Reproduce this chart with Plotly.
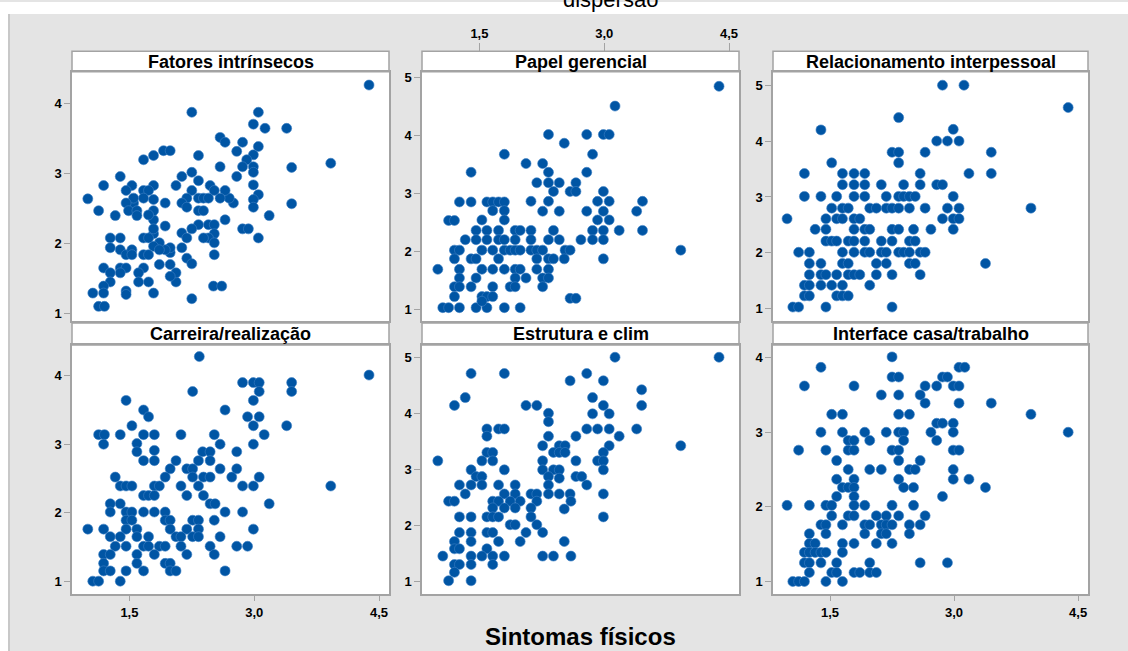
import plotly.graph_objects as go

# ---------------- data ----------------
panel_titles = ["Fatores intrínsecos", "Papel gerencial", "Relacionamento interpessoal",
                "Carreira/realização", "Estrutura e clim", "Interface casa/trabalho"]
x_title = "Sintomas físicos"
x_tickvals = [1.5, 3.0, 4.5]
x_ticktext = ["1,5", "3,0", "4,5"]

fatores = [(4.38,4.27),(2.25,3.88),(3.05,3.88),(2.99,3.71),(3.13,3.65),(3.39,3.65),(2.59,3.52),(2.65,3.45),
 (2.86,3.45),(2.79,3.32),(3.05,3.39),(2.99,3.27),(2.91,3.20),(2.86,3.10),(2.99,3.10),(2.99,3.02),(2.59,3.10),
 (3.45,3.09),(3.92,3.15),(2.79,2.96),(2.99,2.84),(3.05,2.70),(2.99,2.63),(2.99,2.52),(2.75,2.58),(2.70,2.65),
 (3.45,2.57),(3.18,2.40),(2.86,2.21),(2.93,2.21),(3.05,2.08),(2.65,2.34),(2.65,2.76),(2.59,2.65),(2.47,2.83),
 (2.52,2.76),(2.33,2.90),(2.33,3.26),(2.25,3.02),(2.25,2.76),(2.19,2.65),(2.13,2.58),(2.19,2.52),(2.33,2.65),
 (2.39,2.65),(2.45,2.65),(2.33,2.47),(2.39,2.47),(2.13,2.96),(2.06,2.83),(2.33,2.27),(2.25,2.21),(2.45,2.27),
 (2.52,2.27),(2.52,2.14),(2.45,2.08),(2.39,2.08),(2.52,2.01),(2.52,1.84),(2.13,2.15),(2.19,2.08),(2.13,1.94),
 (2.19,1.79),(2.25,1.71),(2.51,1.39),(2.61,1.39),(2.25,1.21),(2.06,1.45),(2.06,1.58),(1.99,1.53),(1.99,1.70),
 (1.99,1.87),(1.99,1.94),(1.93,1.91),(1.93,2.25),(1.93,2.58),(1.86,1.70),(1.86,2.01),(1.79,1.96),(1.79,2.14),
 (1.79,2.34),(1.79,2.47),(1.79,2.63),(1.79,2.83),(1.79,3.26),(1.91,3.33),(1.99,3.33),(1.67,3.20),(1.67,2.76),
 (1.73,2.76),(1.67,2.65),(1.73,2.41),(1.67,2.08),(1.73,2.08),(1.67,1.84),(1.73,1.84),(1.67,1.65),(1.61,1.58),
 (1.61,1.45),(1.73,1.45),(1.79,1.29),(1.55,2.58),(1.55,2.65),(1.53,2.83),(1.46,2.76),(1.46,2.58),(1.49,2.47),
 (1.59,2.47),(1.59,2.40),(1.39,2.96),(1.33,2.40),(1.19,2.83),(1.13,2.47),(1.00,2.64),(1.39,2.08),(1.39,1.91),
 (1.46,1.84),(1.53,1.91),(1.53,1.84),(1.27,2.08),(1.27,1.94),(1.39,1.65),(1.46,1.65),(1.39,1.58),(1.19,1.65),
 (1.27,1.58),(1.27,1.45),(1.19,1.39),(1.19,1.29),(1.06,1.29),(1.46,1.32),(1.46,1.27),(1.13,1.10),(1.20,1.10),
 (1.79,2.21),(1.86,1.91)]

papel = [(4.38,4.84),(3.13,4.50),(2.33,4.01),(2.79,4.01),(2.99,4.01),(3.06,4.01),(2.52,3.86),(2.86,3.67),
 (1.80,3.67),(2.06,3.51),(2.26,3.51),(2.33,3.36),(2.79,3.36),(1.40,3.36),(2.19,3.18),(2.33,3.18),(2.46,3.18),
 (2.66,3.18),(2.39,3.03),(2.59,3.03),(2.66,3.03),(2.99,3.03),(2.12,2.86),(2.33,2.86),(2.92,2.86),(3.06,2.86),
 (3.46,2.86),(3.39,2.69),(2.26,2.69),(2.46,2.69),(2.79,2.69),(2.99,2.69),(2.92,2.54),(3.06,2.54),(2.86,2.36),
 (2.99,2.36),(3.18,2.36),(3.46,2.36),(2.72,2.20),(2.86,2.20),(2.99,2.20),(3.92,2.02),(2.99,1.87),(1.26,2.85),
 (1.40,2.85),(1.59,2.85),(1.66,2.85),(1.73,2.85),(1.80,2.85),(1.66,2.70),(1.80,2.70),(1.80,2.54),(1.13,2.53),
 (1.20,2.53),(1.53,2.54),(1.46,2.36),(1.59,2.36),(1.73,2.36),(1.93,2.36),(1.99,2.36),(2.12,2.36),(2.39,2.36),
 (1.33,2.20),(1.46,2.20),(1.59,2.20),(1.73,2.20),(1.80,2.20),(1.93,2.20),(2.12,2.20),(2.33,2.20),(2.46,2.20),
 (1.20,2.02),(1.26,2.02),(1.53,2.02),(1.66,2.02),(1.80,2.02),(1.87,2.02),(1.93,2.02),(1.99,2.02),(2.12,2.02),
 (2.19,2.02),(2.26,2.02),(2.53,2.02),(2.59,2.02),(1.20,1.87),(1.40,1.87),(1.46,1.87),(1.73,1.87),(2.19,1.87),
 (2.33,1.87),(2.39,1.87),(2.52,1.87),(1.00,1.69),(1.26,1.69),(1.53,1.69),(1.66,1.69),(1.80,1.69),(1.93,1.69),
 (1.99,1.69),(2.19,1.69),(2.33,1.69),(1.26,1.54),(1.46,1.54),(1.93,1.54),(2.06,1.54),(2.26,1.54),(2.33,1.54),
 (1.20,1.39),(1.26,1.39),(1.40,1.39),(1.66,1.39),(1.87,1.39),(1.93,1.39),(2.26,1.39),(1.20,1.22),(1.53,1.22),
 (1.59,1.22),(1.66,1.22),(2.59,1.19),(2.66,1.19),(1.06,1.03),(1.13,1.03),(1.26,1.03),(1.46,1.03),(1.59,1.03),
 (1.80,1.03),(1.99,1.03),(1.53,1.14)]

relacionamento = [(4.38,4.60),(2.86,5.00),(3.12,5.00),(2.33,4.42),(1.39,4.20),(2.99,4.21),(2.79,4.00),(2.92,4.00),
 (3.06,4.00),(2.25,3.80),(2.33,3.80),(2.65,3.80),(3.45,3.80),(2.33,3.61),(1.52,3.61),(1.19,3.42),(1.65,3.42),
 (1.79,3.42),(1.92,3.42),(2.59,3.42),(3.18,3.42),(3.45,3.42),(1.65,3.22),(1.79,3.22),(1.92,3.22),(2.12,3.22),
 (2.39,3.22),(2.59,3.22),(2.79,3.22),(2.86,3.22),(1.19,3.01),(1.39,3.01),(1.58,3.01),(1.79,3.01),(1.92,3.01),
 (2.18,3.01),(2.33,3.01),(2.39,3.01),(2.46,3.01),(2.53,3.01),(2.99,3.01),(1.52,2.80),(1.65,2.80),(1.72,2.80),
 (1.98,2.80),(2.06,2.80),(2.18,2.80),(2.25,2.80),(2.33,2.80),(2.46,2.80),(2.65,2.80),(2.92,2.80),(3.06,2.80),
 (3.93,2.80),(0.98,2.61),(1.45,2.61),(1.58,2.61),(1.65,2.61),(1.79,2.61),(1.86,2.61),(2.86,2.61),(2.99,2.61),
 (3.06,2.61),(1.32,2.42),(1.45,2.42),(1.79,2.42),(1.92,2.42),(1.98,2.42),(2.25,2.42),(2.33,2.42),(2.51,2.42),
 (2.72,2.42),(2.99,2.42),(1.45,2.21),(1.52,2.21),(1.58,2.21),(1.72,2.21),(1.79,2.21),(1.92,2.21),(2.12,2.21),
 (2.25,2.21),(2.46,2.21),(2.53,2.21),(1.12,2.01),(1.25,2.01),(1.65,2.01),(1.79,2.01),(1.92,2.01),(1.98,2.01),
 (2.12,2.01),(2.18,2.01),(2.33,2.01),(2.39,2.01),(2.46,2.01),(2.59,2.01),(2.65,2.01),(1.25,1.81),(1.39,1.81),
 (1.65,1.81),(1.72,1.81),(2.06,1.81),(2.18,1.81),(2.46,1.81),(2.53,1.81),(3.38,1.81),(1.25,1.61),(1.39,1.61),
 (1.45,1.61),(1.58,1.61),(1.72,1.61),(1.79,1.61),(1.86,1.61),(2.06,1.61),(2.25,1.61),(2.59,1.61),(1.19,1.42),
 (1.25,1.42),(1.39,1.42),(1.52,1.42),(1.65,1.42),(1.98,1.42),(1.19,1.23),(1.25,1.23),(1.58,1.23),(1.65,1.23),
 (1.72,1.23),(1.05,1.03),(1.12,1.03),(1.45,1.03),(2.25,1.03)]

carreira = [(4.38,4.01),(2.34,4.28),(2.26,3.77),(2.86,3.90),(2.99,3.90),(3.06,3.90),(3.45,3.90),(3.45,3.77),
 (3.06,3.77),(2.99,3.64),(1.46,3.64),(2.65,3.50),(1.67,3.50),(1.73,3.40),(2.92,3.40),(3.06,3.40),(2.99,3.27),
 (3.39,3.27),(1.53,3.27),(1.13,3.14),(1.20,3.14),(1.39,3.14),(1.67,3.14),(1.80,3.14),(2.12,3.14),(2.52,3.14),
 (3.12,3.14),(1.19,3.00),(1.59,3.01),(2.99,3.00),(2.59,3.00),(1.59,2.89),(1.80,2.91),(2.38,2.89),(2.47,2.89),
 (2.79,2.89),(1.67,2.76),(1.80,2.76),(2.06,2.76),(2.33,2.76),(2.47,2.76),(1.99,2.64),(2.19,2.64),(2.26,2.64),
 (2.59,2.64),(2.79,2.64),(1.33,2.52),(1.93,2.52),(2.26,2.52),(2.39,2.52),(2.47,2.52),(2.73,2.52),(3.06,2.52),
 (3.92,2.39),(1.39,2.39),(1.46,2.39),(1.53,2.39),(1.80,2.39),(1.86,2.39),(2.12,2.39),(2.33,2.39),(2.86,2.39),
 (2.99,2.39),(1.67,2.25),(1.73,2.25),(1.80,2.25),(2.19,2.25),(2.39,2.25),(2.47,2.13),(2.53,2.13),(3.18,2.13),
 (1.27,2.13),(1.39,2.13),(1.27,2.01),(1.46,2.01),(1.53,2.01),(1.67,2.01),(1.80,2.01),(1.93,2.01),(2.65,2.01),
 (2.86,2.01),(1.46,1.89),(1.53,1.89),(1.93,1.89),(1.99,1.89),(2.26,1.89),(2.33,1.89),(2.52,1.89),(1.00,1.76),
 (1.19,1.76),(1.46,1.76),(1.59,1.76),(1.99,1.76),(2.19,1.76),(2.33,1.76),(2.99,1.76),(1.27,1.65),(1.39,1.65),
 (1.59,1.65),(1.73,1.65),(2.06,1.65),(2.12,1.65),(2.26,1.65),(2.33,1.65),(2.59,1.65),(1.33,1.51),(1.46,1.51),
 (1.67,1.51),(1.73,1.51),(1.86,1.51),(1.93,1.51),(2.12,1.51),(2.47,1.51),(2.79,1.51),(2.92,1.51),(1.19,1.39),
 (1.27,1.39),(1.59,1.39),(1.80,1.39),(2.19,1.39),(2.52,1.39),(1.19,1.26),(1.59,1.26),(1.93,1.26),(1.99,1.26),
 (1.19,1.15),(1.27,1.15),(1.46,1.15),(1.67,1.15),(1.99,1.15),(2.06,1.15),(2.65,1.15),(1.06,1.00),(1.13,1.00),
 (1.39,1.00)]

estrutura = [(4.38,5.01),(3.13,5.01),(1.40,4.72),(1.80,4.72),(2.79,4.72),(2.59,4.59),(2.99,4.59),(3.45,4.43),
 (1.33,4.29),(2.86,4.29),(1.20,4.15),(2.06,4.15),(2.19,4.15),(2.99,4.15),(3.45,4.15),(2.33,4.01),(2.86,4.00),
 (3.06,4.00),(2.33,3.86),(1.59,3.73),(1.73,3.73),(1.80,3.73),(2.79,3.73),(2.92,3.73),(3.06,3.73),(3.39,3.73),
 (1.59,3.60),(2.33,3.60),(2.66,3.60),(3.18,3.60),(3.92,3.43),(2.26,3.43),(2.46,3.43),(2.53,3.43),(3.06,3.43),
 (1.59,3.31),(1.66,3.31),(2.39,3.31),(2.46,3.31),(2.53,3.31),(2.99,3.31),(1.00,3.16),(1.53,3.16),(1.66,3.16),
 (2.26,3.16),(2.66,3.16),(2.92,3.16),(2.99,3.16),(1.40,3.00),(1.80,3.00),(2.26,3.00),(2.39,3.00),(2.46,3.00),
 (2.99,3.00),(1.46,2.88),(1.53,2.88),(2.33,2.88),(2.46,2.85),(2.66,2.88),(2.73,2.88),(1.26,2.73),(1.40,2.73),
 (1.53,2.73),(1.73,2.73),(1.93,2.73),(2.33,2.73),(2.79,2.73),(1.33,2.57),(1.80,2.57),(1.93,2.57),(2.12,2.57),
 (2.19,2.57),(2.33,2.57),(2.46,2.57),(2.59,2.57),(2.99,2.57),(1.13,2.44),(1.20,2.44),(1.66,2.44),(1.73,2.44),
 (1.87,2.44),(1.99,2.44),(2.19,2.44),(2.60,2.44),(1.66,2.32),(1.80,2.32),(1.93,2.32),(2.12,2.32),(2.52,2.30),
 (1.26,2.16),(1.40,2.16),(1.59,2.16),(1.66,2.16),(1.73,2.16),(2.12,2.16),(2.99,2.16),(1.87,2.02),(1.93,2.02),
 (2.19,2.02),(1.26,1.88),(1.40,1.88),(1.59,1.88),(1.66,1.88),(2.06,1.88),(2.26,1.88),(1.20,1.72),(1.40,1.72),
 (1.73,1.72),(1.99,1.72),(2.52,1.72),(1.20,1.59),(1.26,1.59),(1.59,1.59),(1.06,1.46),(1.40,1.46),(1.53,1.46),
 (1.66,1.46),(1.80,1.46),(2.26,1.46),(2.39,1.46),(2.60,1.46),(1.20,1.31),(1.26,1.31),(1.40,1.31),(1.66,1.31),
 (1.20,1.17),(1.13,1.02),(1.40,1.02)]

interface = [(4.38,3.00),(2.25,4.01),(1.39,3.87),(3.06,3.87),(3.13,3.87),(2.25,3.74),(2.33,3.74),(2.86,3.74),
 (2.92,3.74),(1.19,3.62),(1.79,3.62),(2.65,3.62),(2.79,3.62),(2.99,3.62),(3.06,3.62),(2.12,3.50),(2.33,3.50),
 (2.59,3.50),(2.65,3.39),(3.06,3.39),(3.45,3.39),(1.52,3.24),(1.65,3.24),(2.33,3.24),(2.46,3.24),(3.93,3.24),
 (2.79,3.12),(2.86,3.12),(2.99,3.12),(1.39,3.00),(1.65,3.00),(1.92,3.00),(2.18,3.00),(2.33,3.00),(2.39,3.00),
 (2.72,3.00),(2.99,3.00),(1.72,2.89),(1.79,2.89),(1.98,2.89),(2.39,2.89),(2.79,2.89),(1.12,2.76),(1.45,2.76),
 (1.72,2.76),(1.79,2.76),(2.25,2.76),(2.33,2.76),(2.99,2.76),(3.06,2.76),(1.58,2.62),(2.33,2.62),(2.59,2.62),
 (1.72,2.50),(1.98,2.50),(2.12,2.50),(2.46,2.50),(2.53,2.50),(2.99,2.50),(1.58,2.37),(1.79,2.37),(2.33,2.37),
 (2.99,2.37),(3.18,2.37),(1.65,2.26),(1.72,2.26),(1.79,2.26),(2.39,2.26),(2.51,2.26),(3.38,2.26),(2.86,2.14),
 (1.58,2.14),(1.79,2.14),(0.98,2.02),(1.25,2.02),(1.45,2.02),(1.52,2.02),(1.79,2.02),(1.92,2.02),(2.25,2.02),
 (2.51,2.02),(1.52,1.88),(1.72,1.88),(1.79,1.88),(2.06,1.88),(2.18,1.88),(2.33,1.88),(2.65,1.88),(1.39,1.76),
 (1.45,1.76),(1.65,1.76),(1.92,1.76),(1.98,1.76),(2.12,1.76),(2.18,1.76),(2.25,1.76),(2.46,1.76),(2.59,1.76),
 (1.92,1.64),(2.12,1.64),(2.18,1.64),(2.46,1.64),(1.25,1.64),(1.45,1.64),(1.25,1.51),(1.32,1.51),(1.65,1.51),
 (1.79,1.51),(2.06,1.51),(2.25,1.51),(1.19,1.39),(1.25,1.39),(1.32,1.39),(1.39,1.39),(1.45,1.39),(1.65,1.39),
 (1.19,1.25),(1.25,1.25),(1.39,1.25),(1.58,1.25),(1.98,1.25),(2.59,1.25),(2.92,1.25),(1.25,1.12),(1.52,1.12),
 (1.58,1.12),(1.79,1.12),(1.86,1.12),(1.98,1.12),(2.06,1.12),(1.05,1.00),(1.12,1.00),(1.19,1.00),(1.45,1.00),
 (1.65,1.00)]

panels_data = [fatores, papel, relacionamento, carreira, estrutura, interface]
y_ticks = [[1, 2, 3, 4], [1, 2, 3, 4, 5], [1, 2, 3, 4, 5],
           [1, 2, 3, 4], [1, 2, 3, 4, 5], [1, 2, 3, 4]]

# ---------------- layout geometry (pixels) ----------------
W, H = 1128, 651
col_px = [(72, 389), (422, 739), (773, 1088)]
row_px = [(70, 320), (344, 594)]          # plot frame top/bottom
hdr_px = [(49.5, 70), (322, 344)]         # header strips
x_range = [0.81, 4.62]
y_ranges = [[0.89, 4.46], [0.80, 5.09], [0.78, 5.24],
            [0.81, 4.45], [0.78, 5.23], [0.83, 4.17]]

def px_x(p): return p / W
def px_y(p): return 1 - p / H

BLUE = "#0055a4"
GRAY = "#a3a3a3"
FONT = "Liberation Sans, Arial, sans-serif"
tickfont = dict(family=FONT, size=13, color="black", weight="bold")

fig = go.Figure()
layout = dict(width=W, height=H, margin=dict(l=0, r=0, t=0, b=0),
              paper_bgcolor="#e4e4e4", plot_bgcolor="white", showlegend=False,
              shapes=[], annotations=[])

for i, pts in enumerate(panels_data):
    r, c = divmod(i, 3)
    n = i + 1
    xs = [p[0] for p in pts]
    ys = [p[1] for p in pts]
    fig.add_trace(go.Scatter(x=xs, y=ys, mode="markers", xaxis=f"x{n}", yaxis=f"y{n}",
                             marker=dict(size=10, color=BLUE,
                                         line=dict(width=0.6, color="#3d7fc4")),
                             hoverinfo="x+y"))
    show_xt = (r == 1 and c != 1)
    layout[f"xaxis{n}"] = dict(domain=[px_x(col_px[c][0]), px_x(col_px[c][1])], anchor=f"y{n}",
                               range=x_range, showgrid=False, zeroline=False,
                               showline=True, mirror=True, linecolor=GRAY, linewidth=1.5,
                               tickvals=x_tickvals, ticktext=x_ticktext,
                               ticks="outside" if show_xt else "", ticklen=5, tickcolor=GRAY,
                               showticklabels=show_xt, tickfont=tickfont)
    layout[f"yaxis{n}"] = dict(domain=[px_y(row_px[r][1]), px_y(row_px[r][0])], anchor=f"x{n}",
                               range=y_ranges[i], showgrid=False, zeroline=False,
                               showline=True, mirror=True, linecolor=GRAY, linewidth=1.5,
                               tickvals=y_ticks[i], ticks="outside", ticklen=6, tickcolor=GRAY,
                               tickfont=tickfont)
    # header strip
    layout["shapes"].append(dict(type="rect", xref="paper", yref="paper",
                                 x0=px_x(col_px[c][0]), x1=px_x(col_px[c][1]),
                                 y0=px_y(hdr_px[r][1]), y1=px_y(hdr_px[r][0]),
                                 fillcolor="white", line=dict(color=GRAY, width=1.5), layer="below"))
    layout["annotations"].append(dict(text=panel_titles[i], xref="paper", yref="paper",
                                      x=px_x((col_px[c][0] + col_px[c][1]) / 2),
                                      y=px_y((hdr_px[r][0] + hdr_px[r][1]) / 2),
                                      xanchor="center", yanchor="middle", showarrow=False,
                                      font=dict(family=FONT, size=18, color="black", weight="bold")))

# top axis ticks above the middle top panel
fig.add_trace(go.Scatter(x=[], y=[], xaxis="x7", yaxis="y2", hoverinfo="skip"))
layout["xaxis7"] = dict(overlaying="x2", anchor="free", position=px_y(49.5), side="top",
                        range=x_range, showgrid=False, zeroline=False, showline=False,
                        tickvals=x_tickvals, ticktext=x_ticktext, ticks="outside", ticklen=8,
                        tickcolor=GRAY, tickfont=tickfont)

# white margins of the original image and left border line
layout["shapes"].append(dict(type="rect", xref="paper", yref="paper", x0=0, x1=1,
                             y0=px_y(12), y1=1, fillcolor="white", line=dict(width=0), layer="below"))
layout["shapes"].append(dict(type="rect", xref="paper", yref="paper", x0=0, x1=px_x(8),
                             y0=0, y1=1, fillcolor="white", line=dict(width=0), layer="below"))
layout["shapes"].append(dict(type="line", xref="paper", yref="paper", x0=px_x(9), x1=px_x(9),
                             y0=0, y1=px_y(12), line=dict(color="#c8c8c8", width=2), layer="below"))

# partially visible figure title (cut by the top edge, as in the original) and common x title
layout["annotations"].append(dict(text="dispersão", xref="paper", yref="paper",
                                  x=px_x(610), y=px_y(12), xanchor="center", yanchor="bottom",
                                  showarrow=False, font=dict(family=FONT, size=22, color="black")))
layout["annotations"].append(dict(text=x_title, xref="paper", yref="paper",
                                  x=px_x(580), y=px_y(636), xanchor="center", yanchor="middle",
                                  showarrow=False,
                                  font=dict(family=FONT, size=24, color="black", weight="bold")))

fig.update_layout(**layout)
fig.write_html("out.html", config={"displayModeBar": False},
               post_script="document.body.style.margin='0';document.body.style.overflow='hidden';")
